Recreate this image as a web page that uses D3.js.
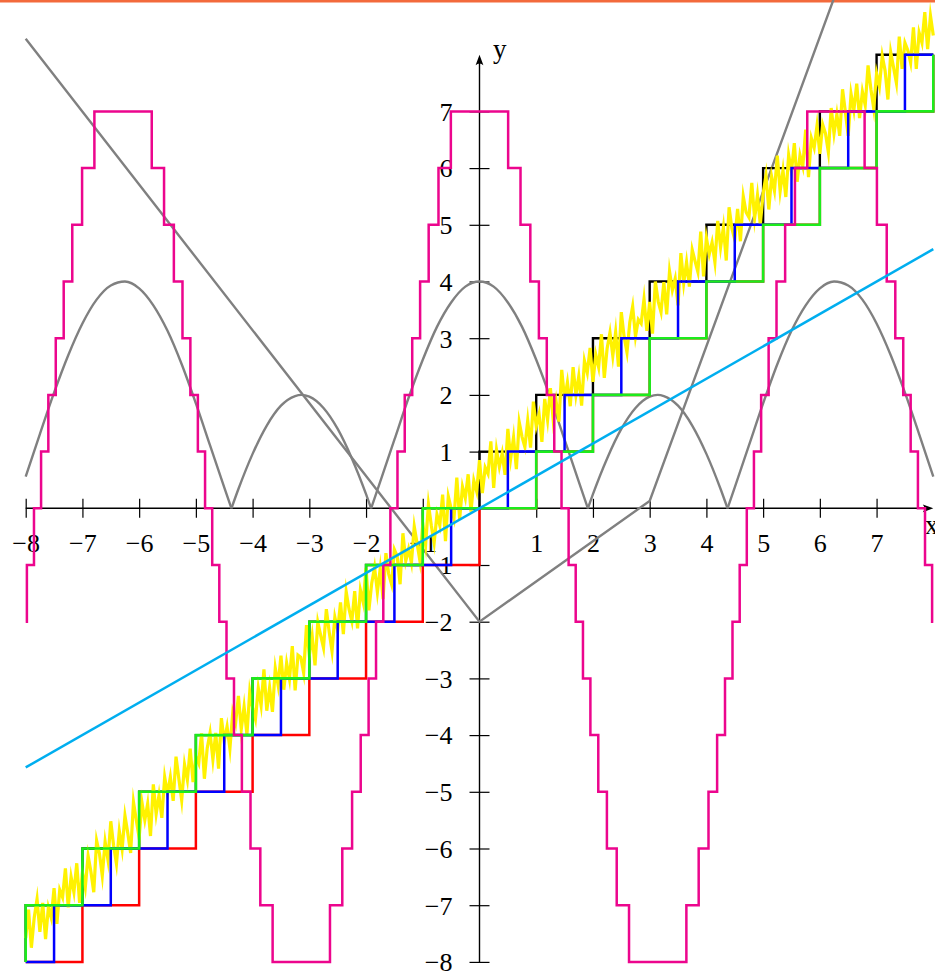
<!DOCTYPE html>
<html>
<head>
<meta charset="utf-8">
<script src="https://cdn.jsdelivr.net/npm/d3@7"></script>
<style>
  html, body { margin: 0; padding: 0; background: #fff; overflow: hidden; }
  svg { display: block; }
  text { font-family: "Liberation Serif", "DejaVu Serif", serif; fill: #000; }
</style>
</head>
<body>
<svg id="chart" width="935" height="971"></svg>
<script>
// ---------------- data ----------------
const xTickValues = [-8, -7, -6, -5, -4, -3, -2, -1, 1, 2, 3, 4, 5, 6, 7];
const xTickLabels = ["−8", "−7", "−6", "−5", "−4", "−3", "−2", "−1", "1", "2", "3", "4", "5", "6", "7"];
const yTickValues = [-8, -7, -6, -5, -4, -3, -2, -1, 1, 2, 3, 4, 5, 6, 7];
const yTickLabels = ["−8", "−7", "−6", "−5", "−4", "−3", "−2", "−1", "1", "2", "3", "4", "5", "6", "7"];

// ceiling steps (black)
const ceilX = [-8, -8, -7, -6, -5, -4, -3, -2, -1, 0, 1, 2, 3, 4, 5, 6, 7, 8];
const ceilY = [-8, -7, -6, -5, -4, -3, -2, -1, 0, 1, 2, 3, 4, 5, 6, 7, 8, 8];
// floor steps (red)
const floorX = [-8, -7, -6, -5, -4, -3, -2, -1, 0, 1, 2, 3, 4, 5, 6, 7, 8];
const floorY = [-8, -7, -6, -5, -4, -3, -2, -1, 0, 1, 2, 3, 4, 5, 6, 7, 8];
// rounding steps (blue)
const roundX = [-8, -7.5, -6.5, -5.5, -4.5, -3.5, -2.5, -1.5, -0.5, 0.5, 1.5, 2.5, 3.5, 4.5, 5.5, 6.5, 7.5, 8];
const roundY = [-8, -7, -6, -5, -4, -3, -2, -1, 0, 1, 2, 3, 4, 5, 6, 7, 8, 8];
// truncation steps (green)
const truncX = [-8, -8, -7, -6, -5, -4, -3, -2, -1, 1, 2, 3, 4, 5, 6, 7, 8];
const truncY = [-8, -7, -6, -5, -4, -3, -2, -1, 0, 1, 2, 3, 4, 5, 6, 7, 8];

// noisy band (yellow), sampled every 0.05 from -8 to 8
const yellowStart = -8, yellowStep = 0.05;
const yellowY = [
  -7.58, -7.08, -7.75, -7.22, -6.89, -7.47, -6.96, -7.60, -7.04, -7.22, -6.70, -7.33, -6.73, -6.86, -6.35, -7.04, -6.50, -6.77, -6.26, -6.96,
  -6.42, -6.69, -6.13, -6.41, -6.77, -5.86, -6.09, -6.48, -5.88, -6.20, -5.52, -5.95, -6.27, -5.69, -6.01, -5.42, -5.73, -6.08, -5.18, -5.50,
  -5.81, -5.19, -5.50, -5.21, -5.78, -4.87, -5.39, -5.06, -5.46, -4.74, -5.04, -4.74, -5.16, -4.38, -4.77, -5.15, -4.52, -4.79, -4.24, -4.83,
  -4.38, -4.50, -3.97, -4.77, -4.23, -3.96, -4.43, -3.96, -4.59, -3.70, -4.11, -3.85, -4.24, -3.60, -3.79, -3.31, -3.90, -3.50, -3.99, -3.23,
  -3.52, -3.72, -3.17, -3.48, -2.84, -3.57, -3.16, -3.59, -2.82, -3.12, -2.60, -3.20, -2.73, -3.01, -2.43, -3.21, -2.59, -2.63, -2.90, -2.06,
  -2.59, -2.25, -2.77, -2.01, -2.24, -2.46, -1.78, -2.18, -2.52, -1.92, -2.15, -1.66, -2.22, -1.47, -1.78, -1.99, -1.46, -2.12, -1.44, -1.66,
  -1.05, -1.80, -1.32, -1.04, -1.48, -1.06, -1.60, -0.79, -1.16, -1.34, -0.73, -0.85, -1.34, -0.44, -0.93, -0.72, -0.96, -0.32, -0.62, -0.93,
  -0.28, -0.64, 0.07, -0.30, -0.61, -0.11, -0.30, 0.24, -0.58, 0.21, 0.00, -0.18, 0.54, -0.19, 0.38, 0.18, 0.60, -0.06, 0.49, 0.30,
  0.85, 0.27, 0.72, 0.61, 1.18, 0.36, 1.03, 0.73, 0.97, 0.59, 1.40, 0.88, 1.25, 0.69, 1.52, 1.26, 1.08, 1.55, 1.07, 1.88,
  1.45, 1.66, 1.17, 1.93, 1.56, 2.12, 1.55, 1.89, 1.53, 2.44, 1.92, 2.22, 1.80, 2.49, 2.00, 2.33, 1.81, 2.60, 2.39, 2.83,
  2.23, 2.71, 2.49, 3.07, 2.30, 2.82, 3.10, 2.69, 3.11, 2.50, 3.46, 3.02, 2.75, 3.28, 3.56, 3.03, 3.33, 3.26, 3.69, 3.13,
  3.64, 3.08, 4.00, 3.65, 3.46, 3.99, 3.42, 4.18, 3.85, 4.05, 3.58, 4.50, 3.97, 4.34, 3.91, 4.56, 4.36, 4.17, 4.88, 4.09,
  4.77, 4.48, 4.69, 4.34, 5.07, 4.60, 4.96, 4.37, 5.31, 4.93, 4.74, 5.28, 4.71, 5.50, 5.22, 5.13, 5.74, 5.12, 5.52, 5.01,
  5.55, 5.87, 5.27, 5.85, 5.60, 6.22, 5.59, 5.96, 5.49, 6.23, 5.94, 6.44, 5.76, 6.23, 6.03, 6.68, 5.84, 6.53, 6.36, 6.75,
  6.25, 6.77, 6.61, 6.28, 7.06, 6.61, 6.95, 6.57, 7.39, 6.99, 6.57, 7.31, 7.02, 7.49, 6.88, 7.35, 7.11, 7.81, 7.39, 7.05,
  7.67, 7.44, 7.98, 7.72, 7.21, 8.04, 7.77, 7.50, 8.32, 7.75, 8.21, 8.08, 7.86, 8.48, 7.75, 8.39, 8.21, 8.75, 8.10, 8.69,
  8.34
];

// stepped wave (magenta): [x where a level starts, level]
const magentaSteps = [
  [-8, -2], [-7.979, -1], [-7.854, 0], [-7.729, 1], [-7.601, 2], [-7.470, 3], [-7.330, 4], [-7.179, 5], [-7.006, 6], [-6.789, 7],
  [-5.778, 6], [-5.561, 5], [-5.388, 4], [-5.236, 3], [-5.097, 2], [-4.965, 1], [-4.838, 0], [-4.712, -1], [-4.587, -2], [-4.460, -3],
  [-4.328, -4], [-4.189, -5], [-4.037, -6], [-3.864, -7], [-3.647, -8],
  [-2.636, -7], [-2.419, -6], [-2.246, -5], [-2.094, -4], [-1.955, -3], [-1.824, -2], [-1.696, -1], [-1.571, 0], [-1.446, 1], [-1.318, 2],
  [-1.186, 3], [-1.047, 4], [-0.896, 5], [-0.723, 6], [-0.505, 7],
  [0.505, 6], [0.723, 5], [0.896, 4], [1.047, 3], [1.186, 2], [1.318, 1], [1.446, 0], [1.571, -1], [1.696, -2], [1.824, -3],
  [1.955, -4], [2.094, -5], [2.246, -6], [2.419, -7], [2.636, -8],
  [3.647, -7], [3.864, -6], [4.037, -5], [4.189, -4], [4.328, -3], [4.460, -2], [4.587, -1], [4.712, 0], [4.838, 1], [4.965, 2],
  [5.097, 3], [5.236, 4], [5.388, 5], [5.561, 6], [5.778, 7],
  [6.789, 6], [7.006, 5], [7.179, 4], [7.330, 3], [7.470, 2], [7.601, 1], [7.729, 0], [7.854, -1], [7.979, -2], [8, -2]
];

// rectified wave (gray arches)
const archPts = [
  [-8, 0.56], [-7.75, 1.31], [-7.5, 2.04], [-7.25, 2.70], [-7, 3.26], [-6.75, 3.68], [-6.5, 3.93], [-6.25, 4.00],
  [-6, 3.88], [-5.75, 3.58], [-5.5, 3.13], [-5.25, 2.54], [-5, 1.85], [-4.75, 1.11], [-4.5, 0.37], [-4.3726, 0],
  [-4.25, 0.34], [-4, 0.96], [-3.75, 1.46], [-3.5, 1.81], [-3.25, 1.98], [-3.1416, 2.00], [-3, 1.97], [-2.75, 1.77],
  [-2.5, 1.40], [-2.25, 0.88], [-2, 0.25], [-1.9106, 0],
  [-1.75, 0.47], [-1.5, 1.21], [-1.25, 1.95], [-1, 2.62], [-0.75, 3.20], [-0.5, 3.63], [-0.25, 3.91], [0, 4.00],
  [0.25, 3.91], [0.5, 3.63], [0.75, 3.20], [1, 2.62], [1.25, 1.95], [1.5, 1.21], [1.75, 0.47], [1.9106, 0],
  [2, 0.25], [2.25, 0.88], [2.5, 1.40], [2.75, 1.77], [3, 1.97], [3.1416, 2.00], [3.25, 1.98], [3.5, 1.81],
  [3.75, 1.46], [4, 0.96], [4.25, 0.34], [4.3726, 0],
  [4.5, 0.37], [4.75, 1.11], [5, 1.85], [5.25, 2.54], [5.5, 3.13], [5.75, 3.58], [6, 3.88], [6.25, 4.00],
  [6.5, 3.93], [6.75, 3.68], [7, 3.26], [7.25, 2.70], [7.5, 2.04], [7.75, 1.31], [8, 0.56]
];

// broken gray line
const vLinePts = [[-8, 8.28], [0, -2], [3, 0.13], [6.5, 9.68]];
// straight cyan line
const cyanPts = [[-8, -4.57], [8, 4.57]];

// ---------------- drawing ----------------
const W = 935, H = 971;
const svg = d3.select("#chart");

const x = d3.scaleLinear().domain([-8, 8]).range([25.7, 933.3]);
const y = d3.scaleLinear().domain([-8, 8]).range([961.9, 54.7]);
const x0 = x(0), y0 = y(0);

// thin accent rule along the top edge
svg.append("rect").attr("x", 0).attr("y", 0).attr("width", W).attr("height", 2.5).attr("fill", "#f36a3c");

// ---- axes (drawn below the plots) ----
const axes = svg.append("g");

const xAxis = d3.axisBottom(x)
  .tickValues(xTickValues)
  .tickFormat((d, i) => xTickLabels[i])
  .tickSize(0);
const gx = axes.append("g").attr("transform", `translate(0,${y0})`).call(xAxis);
gx.select(".domain").remove();
gx.selectAll(".tick line").attr("y1", -9.5).attr("y2", 9.5).attr("stroke", "#000").attr("stroke-width", 1.2);
gx.selectAll(".tick text")
  .attr("y", 44).attr("dy", null)
  .attr("font-size", 26)
  .style("font-family", '"Liberation Serif", serif');

const yAxis = d3.axisLeft(y)
  .tickValues(yTickValues)
  .tickFormat((d, i) => yTickLabels[i])
  .tickSize(0);
const gy = axes.append("g").attr("transform", `translate(${x0},0)`).call(yAxis);
gy.select(".domain").remove();
gy.selectAll(".tick line").attr("x1", -10).attr("x2", 10).attr("stroke", "#000").attr("stroke-width", 1.2);
gy.selectAll(".tick text")
  .attr("x", -27).attr("dy", null).attr("y", 8.8)
  .attr("text-anchor", "end")
  .attr("font-size", 26)
  .style("font-family", '"Liberation Serif", serif');
gx.attr("font-family", null).attr("font-size", null);
gy.attr("font-family", null).attr("font-size", null);

// axis lines with arrow heads
const arrowHead = "M0,0 L-10.5,-3.9 Q-7.2,0 -10.5,3.9 Z";
axes.append("line")
  .attr("x1", x(-8)).attr("x2", x(8) - 4).attr("y1", y0).attr("y2", y0)
  .attr("stroke", "#000").attr("stroke-width", 1.4);
axes.append("path").attr("d", arrowHead).attr("fill", "#000")
  .attr("transform", `translate(${x(8)},${y0})`);
axes.append("line")
  .attr("x1", x0).attr("x2", x0).attr("y1", y(-8)).attr("y2", y(8) + 4)
  .attr("stroke", "#000").attr("stroke-width", 1.4);
axes.append("path").attr("d", arrowHead).attr("fill", "#000")
  .attr("transform", `translate(${x0},${y(8)}) rotate(-90)`);

axes.append("text").attr("x", 925).attr("y", 534).attr("font-size", 27).text("x");
axes.append("text").attr("x", 493).attr("y", 58).attr("font-size", 27).text("y");

// ---- plots ----
const plots = svg.append("g").attr("fill", "none");
const lineXY = d3.line().x(d => x(d[0])).y(d => y(d[1]));
const stepLine = d3.line().x(d => x(d[0])).y(d => y(d[1])).curve(d3.curveStepAfter);
const zip = (xs, ys) => xs.map((v, i) => [v, ys[i]]);

// broken gray line
plots.append("path").attr("d", lineXY(vLinePts))
  .attr("stroke", "#808080").attr("stroke-width", 2.4);

// gray arches, each arch between zeros drawn as its own smooth piece
const archSegs = [];
let seg = [];
archPts.forEach((p, i) => {
  seg.push(p);
  if (p[1] === 0 && i > 0) { archSegs.push(seg); seg = [p]; }
});
if (seg.length > 1) archSegs.push(seg);
const smooth = d3.line().x(d => x(d[0])).y(d => y(d[1])).curve(d3.curveMonotoneX);
archSegs.forEach(s => {
  plots.append("path").attr("d", smooth(s))
    .attr("stroke", "#808080").attr("stroke-width", 2.4);
});

// black ceiling steps
plots.append("path").attr("d", stepLine(zip(ceilX, ceilY)))
  .attr("stroke", "#000").attr("stroke-width", 2.4);

// yellow noisy band
const yellowPts = yellowY.map((v, i) => [yellowStart + i * yellowStep, v]);
plots.append("path").attr("d", lineXY(yellowPts))
  .attr("stroke", "#fff200").attr("stroke-width", 3.2)
  .attr("stroke-linejoin", "miter").attr("stroke-miterlimit", 10);

// red floor, blue rounding, green truncation
plots.append("path").attr("d", stepLine(zip(floorX, floorY)))
  .attr("stroke", "#ff0000").attr("stroke-width", 2.5);
plots.append("path").attr("d", stepLine(zip(roundX, roundY)))
  .attr("stroke", "#0000ff").attr("stroke-width", 2.5);
plots.append("path").attr("d", stepLine(zip(truncX, truncY)))
  .attr("stroke", "#1cec1c").attr("stroke-width", 2.6);

// magenta stepped wave
plots.append("path").attr("d", stepLine(magentaSteps))
  .attr("stroke", "#ec058d").attr("stroke-width", 2.5);

// cyan line
plots.append("path").attr("d", lineXY(cyanPts))
  .attr("stroke", "#00aeef").attr("stroke-width", 2.5);
</script>
</body>
</html>
